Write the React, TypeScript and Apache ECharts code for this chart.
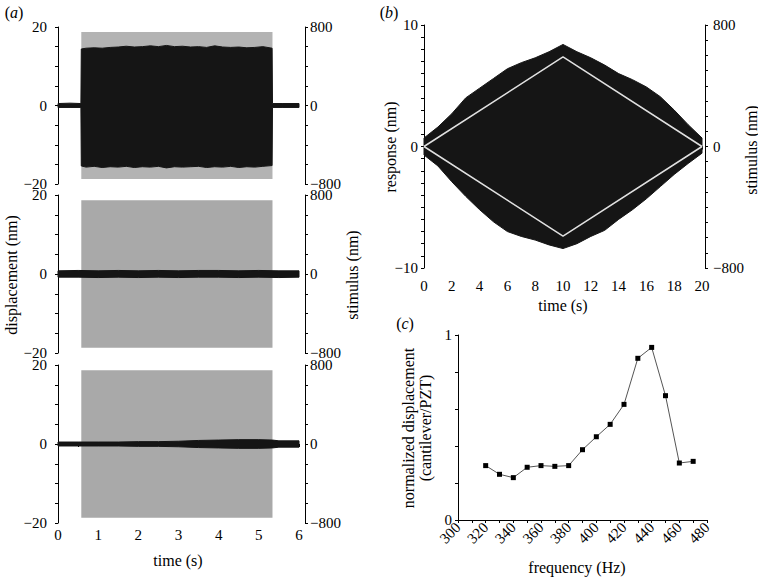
import React, { useEffect, useRef } from "react";
import * as echarts from "echarts";

const FONT = "Liberation Serif, Times New Roman, serif";

// ---------- panel (a) ----------
const stimOnOffA = [0.58, 5.34];
const stimAmpA = 748; // nm on stimulus axis

const neuronsT = [0, 0.3, 0.57, 0.58, 0.7, 0.9, 1.1, 1.3, 1.5, 1.7, 1.9, 2.1, 2.3, 2.5, 2.7, 2.9, 3.1, 3.3, 3.5, 3.7, 3.9, 4.1, 4.3, 4.5, 4.7, 4.9, 5.1, 5.33, 5.34, 5.6, 6.0];
const neuronsUp = [0.5, 0.6, 0.5, 14.4, 14.6, 14.7, 14.6, 14.8, 14.9, 15.1, 14.9, 15.0, 15.2, 15.0, 15.3, 15.0, 15.1, 14.9, 15.0, 14.8, 15.2, 14.9, 14.8, 14.9, 14.7, 14.8, 15.0, 14.6, 0.5, 0.5, 0.5];
const neuronsLo = [-0.5, -0.5, -0.5, -15.4, -15.7, -15.5, -15.8, -15.6, -15.7, -15.5, -15.8, -15.6, -15.7, -15.5, -15.9, -15.6, -15.7, -15.6, -15.5, -15.8, -15.6, -15.7, -15.5, -15.8, -15.6, -15.7, -15.5, -15.3, -0.5, -0.5, -0.5];

const pedicelT = [0, 0.5, 1, 1.5, 2, 2.5, 3, 3.5, 4, 4.5, 5, 5.5, 6];
const pedicelUp = [0.8, 0.9, 0.8, 0.9, 0.8, 0.9, 0.8, 0.9, 0.9, 0.8, 0.9, 0.8, 0.8];
const pedicelLo = [-0.8, -0.8, -0.9, -0.8, -0.9, -0.8, -0.9, -0.8, -0.8, -0.9, -0.8, -0.9, -0.8];

const deadT = [0, 0.5, 1, 1.5, 2, 2.5, 3, 3.5, 4, 4.5, 5, 5.34, 5.5, 6];
const deadUp = [0.5, 0.5, 0.5, 0.5, 0.6, 0.6, 0.7, 0.9, 1.0, 1.1, 1.1, 1.0, 0.8, 0.8];
const deadLo = [-0.5, -0.5, -0.5, -0.5, -0.6, -0.6, -0.7, -0.9, -1.0, -1.1, -1.1, -1.0, -0.8, -0.8];

// ---------- panel (b) ----------
const respT = [0, 1, 2, 3, 4, 5, 6, 7, 8, 9, 10, 11, 12, 13, 14, 15, 16, 17, 18, 19, 20];
const respUp = [0.7, 1.6, 2.7, 4.0, 4.8, 5.6, 6.4, 6.9, 7.3, 7.8, 8.4, 7.8, 7.3, 6.7, 6.0, 5.5, 4.9, 4.1, 3.0, 1.8, 0.7];
const respLo = [-0.7, -1.6, -2.9, -4.1, -5.2, -6.2, -7.0, -7.4, -7.7, -8.1, -8.4, -8.0, -7.4, -6.9, -6.0, -5.2, -4.3, -3.3, -2.3, -1.4, -0.55];

const stimT = [0, 10, 20];
const stimUpB = [0, 590, 0];
const stimDownB = [0, -590, 0];

// ---------- panel (c) ----------
const freqHz = [320, 330, 340, 350, 360, 370, 380, 390, 400, 410, 420, 430, 440, 450, 460, 470];
const normDisp = [0.294, 0.247, 0.229, 0.285, 0.294, 0.29, 0.294, 0.38, 0.45, 0.517, 0.625, 0.874, 0.933, 0.672, 0.308, 0.317];

const fmtNum = (v: number) => (v < 0 ? "\u2212" + Math.abs(v) : String(v));

function bandSeries(xi: number, yi: number, ts: number[], up: number[], lo: number[], color: string) {
  return {
    type: "custom",
    xAxisIndex: xi,
    yAxisIndex: yi,
    silent: true,
    clip: false,
    data: ts.map((t, i) => [t, up[i], lo[i]]),
    encode: { x: 0, y: [1, 2] },
    renderItem: (params: any, api: any) => {
      if (params.dataIndex !== 0) return null;
      const pts: number[][] = [];
      for (let i = 0; i < ts.length; i++) pts.push(api.coord([ts[i], up[i]]));
      for (let i = ts.length - 1; i >= 0; i--) pts.push(api.coord([ts[i], lo[i]]));
      return {
        type: "polygon",
        shape: { points: pts },
        style: { fill: color, stroke: color, lineWidth: 1 },
      };
    },
  };
}

function rectSeries(xi: number, yi: number, on: number, off: number, amp: number, color: string) {
  return {
    type: "custom",
    xAxisIndex: xi,
    yAxisIndex: yi,
    silent: true,
    data: [[on, amp], [off, -amp]],
    encode: { x: 0, y: 1 },
    renderItem: (params: any, api: any) => {
      if (params.dataIndex !== 0) return null;
      const p1 = api.coord([on, amp]);
      const p2 = api.coord([off, -amp]);
      return {
        type: "rect",
        shape: { x: p1[0], y: p1[1], width: p2[0] - p1[0], height: p2[1] - p1[1] },
        style: { fill: color },
      };
    },
  };
}

const axisLineStyle = { show: true, lineStyle: { color: "#000", width: 1 } };
const tickStyle = { show: true, length: 3, lineStyle: { color: "#000", width: 1 } };
const labelBase = { color: "#000", fontFamily: FONT, fontSize: 15 };

function yLeft(grid: number, min: number, max: number, interval: number, every: number, offset: number, margin: number, lineHeight?: number) {
  return {
    type: "value",
    gridIndex: grid,
    position: "left",
    min,
    max,
    interval,
    offset,
    axisLine: axisLineStyle,
    axisTick: tickStyle,
    splitLine: { show: false },
    axisLabel: {
      ...labelBase,
      margin,
      ...(lineHeight ? { lineHeight } : {}),
      formatter: (v: number) => (Math.abs(v % every) < 1e-9 ? fmtNum(v) : ""),
    },
  };
}
function yRight(grid: number, min: number, max: number, interval: number, every: number, offset: number, margin: number, lineHeight?: number) {
  return { ...yLeft(grid, min, max, interval, every, offset, margin, lineHeight), position: "right" };
}

function text(x: number, y: number, s: string, size = 16, rotation = 0, align = "center") {
  return {
    type: "text",
    x,
    y,
    rotation,
    style: {
      text: s,
      fill: "#000",
      fontFamily: FONT,
      fontSize: size,
      textAlign: align,
      textVerticalAlign: "middle",
    },
  };
}

function panelLetter(x: number, y: number, letter: string) {
  return {
    type: "text",
    x,
    y,
    style: {
      text: "(" + "{i|" + letter + "})",
      fill: "#000",
      fontFamily: FONT,
      fontSize: 16,
      textAlign: "center",
      textVerticalAlign: "middle",
      rich: { i: { fontStyle: "italic", fontFamily: FONT, fontSize: 16, fill: "#000" } },
    },
  };
}

export default function App() {
  const ref = useRef<HTMLDivElement>(null);
  useEffect(() => {
    if (!ref.current) return;
    const chart = echarts.init(ref.current, undefined, { renderer: "svg" });
    const option: any = {
      animation: false,
      backgroundColor: "#fff",
      grid: [
        { left: 58, right: 459, top: 27, height: 157 },
        { left: 58, right: 459, top: 195, height: 158 },
        { left: 58, right: 459, top: 365, height: 158 },
        { left: 424, right: 56, top: 25, height: 243 },
        { left: 458, right: 51, top: 335, height: 185 },
      ],
      xAxis: [
        { type: "value", gridIndex: 0, min: 0, max: 6, show: false },
        { type: "value", gridIndex: 1, min: 0, max: 6, show: false },
        {
          type: "value",
          gridIndex: 2,
          min: 0,
          max: 6,
          interval: 0.5,
          axisLine: axisLineStyle,
          axisTick: tickStyle,
          splitLine: { show: false },
          axisLabel: { ...labelBase, margin: 4, formatter: (v: number) => (Number.isInteger(v) ? String(v) : "") },
        },
        {
          type: "value",
          gridIndex: 3,
          min: 0,
          max: 20,
          interval: 1,
          axisLine: axisLineStyle,
          axisTick: tickStyle,
          splitLine: { show: false },
          axisLabel: { ...labelBase, margin: 10, formatter: (v: number) => (v % 2 === 0 ? String(v) : "") },
        },
        {
          type: "value",
          gridIndex: 4,
          min: 300,
          max: 480,
          interval: 10,
          axisLine: axisLineStyle,
          axisTick: tickStyle,
          splitLine: { show: false },
          axisLabel: { ...labelBase, margin: 5, rotate: 45, formatter: (v: number) => (v % 20 === 0 ? String(v) : "") },
        },
      ],
      yAxis: [
        yLeft(0, -20, 20, 5, 20, 5, 6, 10),
        yRight(0, -800, 800, 200, 800, 6, 5, 10),
        yLeft(1, -20, 20, 5, 20, 5, 6, 10),
        yRight(1, -800, 800, 200, 800, 6, 5, 10),
        yLeft(2, -20, 20, 5, 20, 5, 6, 10),
        yRight(2, -800, 800, 200, 800, 6, 5, 10),
        yLeft(3, -10, 10, 1, 10, 1, 5),
        yRight(3, -800, 800, 100, 800, 3, 8),
        yLeft(4, 0, 1, 0.2, 1, 0, 6),
      ],
      series: [
        rectSeries(0, 1, stimOnOffA[0], stimOnOffA[1], stimAmpA, "#b3b3b3"),
        bandSeries(0, 0, neuronsT, neuronsUp, neuronsLo, "#151515"),
        rectSeries(1, 3, stimOnOffA[0], stimOnOffA[1], stimAmpA, "#a9a9a9"),
        bandSeries(1, 2, pedicelT, pedicelUp, pedicelLo, "#151515"),
        rectSeries(2, 5, stimOnOffA[0], stimOnOffA[1], stimAmpA, "#a9a9a9"),
        bandSeries(2, 4, deadT, deadUp, deadLo, "#151515"),
        bandSeries(3, 6, respT, respUp, respLo, "#151515"),
        {
          type: "line",
          xAxisIndex: 3,
          yAxisIndex: 7,
          data: stimT.map((t, i) => [t, stimUpB[i]]),
          showSymbol: false,
          silent: true,
          lineStyle: { color: "#e0e0e0", width: 1.5 },
        },
        {
          type: "line",
          xAxisIndex: 3,
          yAxisIndex: 7,
          data: stimT.map((t, i) => [t, stimDownB[i]]),
          showSymbol: false,
          silent: true,
          lineStyle: { color: "#e0e0e0", width: 1.5 },
        },
        {
          type: "line",
          xAxisIndex: 4,
          yAxisIndex: 8,
          data: freqHz.map((f, i) => [f, normDisp[i]]),
          symbol: "rect",
          symbolSize: 5,
          showSymbol: true,
          silent: true,
          itemStyle: { color: "#000" },
          lineStyle: { color: "#555", width: 1 },
        },
      ],
      graphic: [
        panelLetter(14, 12, "a"),
        panelLetter(389, 12, "b"),
        panelLetter(405, 323, "c"),
        text(105, 38, "neurons", 16, 0, "left"),
        text(105, 214, "pedicel", 16, 0, "left"),
        text(105, 384, "dead", 16, 0, "left"),
        text(11, 275, "displacement (nm)", 16, Math.PI / 2),
        text(352, 275, "stimulus (nm)", 16, Math.PI / 2),
        text(178, 560, "time (s)", 16),
        text(390, 147, "response (nm)", 16, Math.PI / 2),
        text(751, 150, "stimulus (nm)", 16, Math.PI / 2),
        text(563, 305, "time (s)", 16),
        text(408, 428, "normalized displacement", 16, Math.PI / 2),
        text(425, 428, "(cantilever/PZT)", 16, Math.PI / 2),
        text(577, 567, "frequency (Hz)", 16),
      ],
    };
    chart.setOption(option);
    return () => chart.dispose();
  }, []);
  return (
    <div
      ref={ref}
      style={{ position: "fixed", left: 0, top: 0, width: 758, height: 579, background: "#fff" }}
    />
  );
}
